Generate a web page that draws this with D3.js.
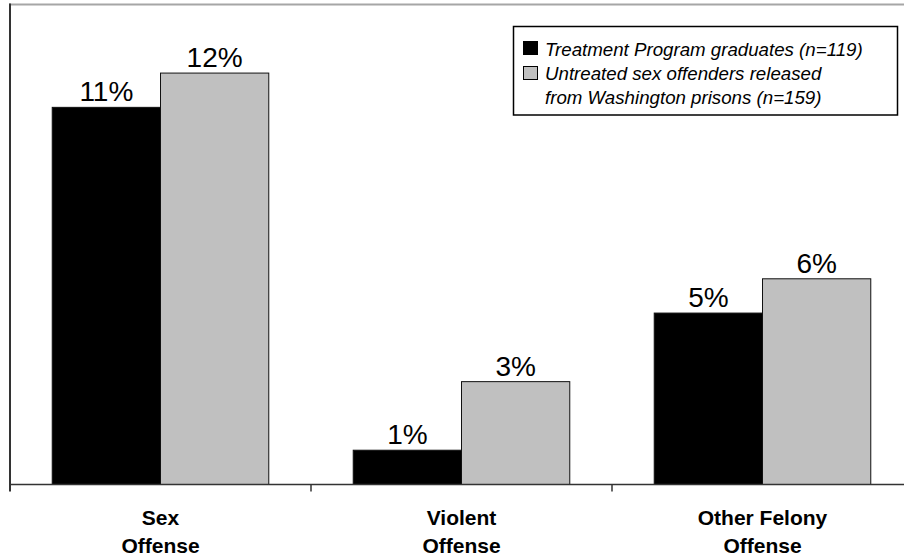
<!DOCTYPE html>
<html>
<head>
<meta charset="utf-8">
<script src="https://cdn.jsdelivr.net/npm/d3@7"></script>
<style>
  html, body { margin: 0; padding: 0; background: #fff; }
  svg { display: block; font-family: "Liberation Sans", Arial, sans-serif; }
</style>
</head>
<body>
<svg id="chart" width="904" height="558"></svg>
<script>
// Recidivism by offense type, percent of each group
const categories = ["Sex Offense", "Violent Offense", "Other Felony Offense"];
const categoryLines = [["Sex", "Offense"], ["Violent", "Offense"], ["Other Felony", "Offense"]];
const seriesNames = ["Treatment Program graduates (n=119)", "Untreated sex offenders released from Washington prisons (n=159)"];
const legendLines = [["Treatment Program graduates (n=119)"], ["Untreated sex offenders released", "from Washington prisons (n=159)"]];
const treatedValues = [11, 1, 5];
const untreatedValues = [12, 3, 6];
const seriesColors = ["#000000", "#c0c0c0"];

const svg = d3.select("#chart");

const x = d3.scaleBand().domain(categories).range([10, 913]).paddingInner(0).paddingOuter(0);
const xSub = d3.scaleBand().domain(seriesNames).range([0, x.bandwidth()]).paddingInner(0).paddingOuter(0.39);
const y = d3.scaleLinear().domain([0, 14]).range([484.5, 4.5]);

const rows = categories.map((c, i) => ({
  category: c,
  lines: categoryLines[i],
  values: [treatedValues[i], untreatedValues[i]]
}));

// plot frame: top edge
svg.append("line")
  .attr("x1", 9).attr("x2", 904)
  .attr("y1", y(14)).attr("y2", y(14))
  .attr("stroke", "#a6a6a6").attr("stroke-width", 2);

// bars
const groups = svg.append("g").selectAll("g").data(rows).join("g")
  .attr("transform", d => `translate(${x(d.category)},0)`);

groups.selectAll("rect")
  .data(d => d.values.map((v, j) => ({ series: seriesNames[j], value: v, j })))
  .join("rect")
  .attr("x", d => xSub(d.series))
  .attr("width", xSub.bandwidth())
  .attr("y", d => y(d.value))
  .attr("height", d => y(0) - y(d.value))
  .attr("fill", d => seriesColors[d.j])
  .attr("stroke", "#111")
  .attr("stroke-width", 1);

// value labels
groups.selectAll("text.val")
  .data(d => d.values.map((v, j) => ({ series: seriesNames[j], value: v, j })))
  .join("text")
  .attr("class", "val")
  .attr("x", d => xSub(d.series) + xSub.bandwidth() / 2)
  .attr("y", d => y(d.value) - 6)
  .attr("text-anchor", "middle")
  .attr("font-size", 28)
  .attr("fill", "#000")
  .text(d => d.value + "%");

// y axis line (extends below baseline like a tick)
svg.append("line")
  .attr("x1", 10).attr("x2", 10)
  .attr("y1", y(14) - 1).attr("y2", y(0) + 7)
  .attr("stroke", "#333").attr("stroke-width", 2);

// x axis baseline and category boundary ticks
svg.append("line")
  .attr("x1", 10).attr("x2", 904)
  .attr("y1", y(0)).attr("y2", y(0))
  .attr("stroke", "#333").attr("stroke-width", 1.5);

svg.append("g").selectAll("line").data(categories.slice(1)).join("line")
  .attr("x1", d => x(d)).attr("x2", d => x(d))
  .attr("y1", y(0)).attr("y2", y(0) + 7)
  .attr("stroke", "#333").attr("stroke-width", 1.5);

// category labels
const catLabels = svg.append("g").selectAll("text").data(rows).join("text")
  .attr("text-anchor", "middle")
  .attr("font-size", 21)
  .attr("font-weight", "bold")
  .attr("fill", "#000");
catLabels.selectAll("tspan").data(d => d.lines.map(l => ({ l, cx: x(d.category) + x.bandwidth() / 2 })))
  .join("tspan")
  .attr("x", d => d.cx)
  .attr("y", (d, i) => 525 + i * 28)
  .text(d => d.l);

// legend
const legend = svg.append("g");
legend.append("rect")
  .attr("x", 513.5).attr("y", 26.5)
  .attr("width", 384).attr("height", 88.5)
  .attr("fill", "#fff").attr("stroke", "#000").attr("stroke-width", 1.5);

const legendItems = legend.selectAll("g.item").data(seriesNames).join("g").attr("class", "item");
legendItems.append("rect")
  .attr("x", 523.5)
  .attr("y", (d, i) => 41.5 + i * 25)
  .attr("width", 14).attr("height", 13)
  .attr("fill", (d, i) => seriesColors[i])
  .attr("stroke", "#000").attr("stroke-width", 1);

let lineIndex = 0;
legendItems.each(function (d, i) {
  const t = d3.select(this).append("text")
    .attr("font-size", 18.7)
    .attr("font-style", "italic")
    .attr("fill", "#000");
  legendLines[i].forEach(line => {
    t.append("tspan")
      .attr("x", 545)
      .attr("y", 56 + lineIndex * 24)
      .text(line);
    lineIndex++;
  });
});
</script>
</body>
</html>
